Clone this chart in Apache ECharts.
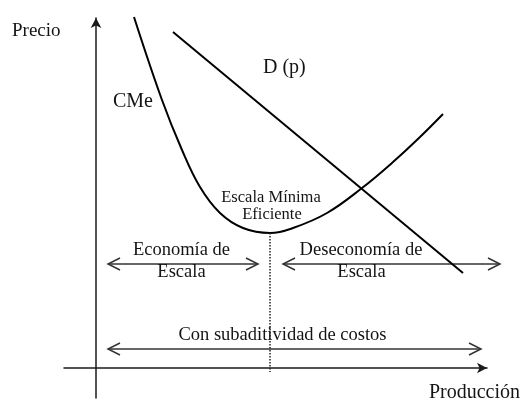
<!DOCTYPE html>
<html><head><meta charset="utf-8">
<script src="https://cdn.jsdelivr.net/npm/echarts@6/dist/echarts.min.js"></script>
<style>html,body{margin:0;padding:0;background:#fff}#c{width:523px;height:405px}</style>
</head><body><div id="c"></div>
<script>
// Average cost curve (CMe): [production, price]
const cmeCurve = [[38,351],[66,268],[86,218],[104,181],[124,155],[147,140],[174,135],[197,140],[231,155],[266,180],[297,206],[324,231],[347,254]];
// Demand D(p): straight line endpoints
const demandLine = [[77,336],[367,95]];
// Minimum efficient scale (vertical dotted reference)
const mesLine = [[174,135],[174,-4]];
// Range arrows: [fromX, toX, y]
const rangeArrows = [[12,162,104],[187,404,104],[12,385,19]];
// Text labels: [x, y, text, align]
const labelTexts = [
  [-84,336.5,'Precio','left'],
  [17,266,'CMe','left'],
  [167,300,'D (p)','left'],
  [175,170.5,'Escala Mínima','center'],
  [176,153.5,'Eficiente','center'],
  [85.5,117.5,'Economía de','center'],
  [85.5,95.5,'Escala','center'],
  [265,117.5,'Deseconomía de','center'],
  [265.5,95.5,'Escala','center'],
  [186.5,32.5,'Con subaditividad de costos','center'],
  [424,-25,'Producción','right']
];
const labelSizes = {'Precio':19,'CMe':20,'D (p)':20,'Escala Mínima':16.5,'Eficiente':16.5,'Producción':20};

const chart = echarts.init(document.getElementById('c'), null, {renderer:'canvas'});
const axisCommon = {
  type:'value', splitLine:{show:false}, axisTick:{show:false}, axisLabel:{show:false},
  axisLine:{show:true, onZero:true, symbol:['none','arrow'], symbolSize:[8,10], lineStyle:{color:'#1a1a1a', width:1.5}}
};
chart.setOption({
  animation:false,
  grid:{left:64, right:36, top:18, bottom:7},
  xAxis:Object.assign({}, axisCommon, {min:-32, max:391}),
  yAxis:Object.assign({}, axisCommon, {min:-30, max:350}),
  series:[
    {type:'line', data:cmeCurve, smooth:0.4, showSymbol:false, clip:false, lineStyle:{color:'#000', width:2}},
    {type:'line', data:demandLine, showSymbol:false, clip:false, lineStyle:{color:'#000', width:2}},
    {type:'line', data:mesLine, showSymbol:false, clip:false, lineStyle:{color:'#222', width:1.5, type:[1.5,1.5]}},
    {type:'custom', clip:false, data:rangeArrows, renderItem:function(params, api){
      const a = api.coord([api.value(0), api.value(2)]);
      const b = api.coord([api.value(1), api.value(2)]);
      const L = 12, H = 6;
      const st = {stroke:'#333', lineWidth:1.5, fill:null};
      return {type:'group', children:[
        {type:'line', shape:{x1:a[0], y1:a[1], x2:b[0], y2:b[1]}, style:st},
        {type:'polyline', shape:{points:[[a[0]+L,a[1]-H],[a[0],a[1]],[a[0]+L,a[1]+H]]}, style:st},
        {type:'polyline', shape:{points:[[b[0]-L,b[1]-H],[b[0],b[1]],[b[0]-L,b[1]+H]]}, style:st}
      ]};
    }},
    {type:'custom', clip:false, data:labelTexts, renderItem:function(params, api){
      const item = labelTexts[params.dataIndex];
      const p = api.coord([item[0], item[1]]);
      const size = labelSizes[item[2]] || 18.5;
      return {type:'text', x:p[0], y:p[1], style:{text:item[2], fill:'#141414', font:size+'px "Liberation Serif", "Times New Roman", serif', align:item[3], verticalAlign:'middle'}};
    }}
  ]
});
</script></body></html>
